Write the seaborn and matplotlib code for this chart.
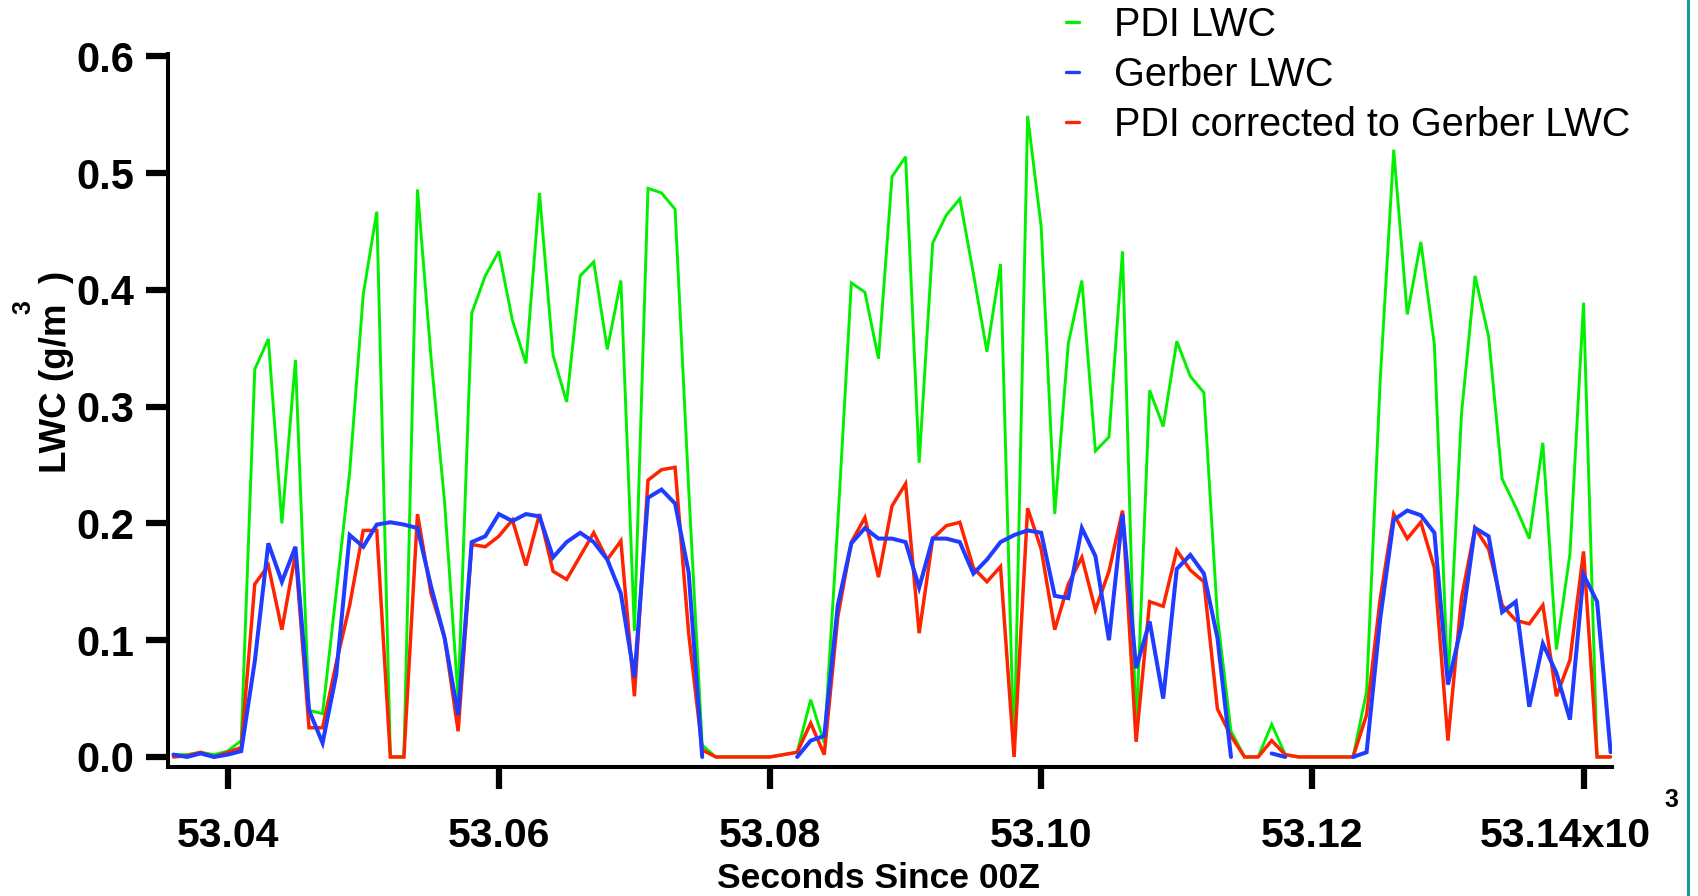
import numpy as np
import pandas as pd
import matplotlib
matplotlib.use("Agg")
import matplotlib.pyplot as plt
import seaborn as sns
from matplotlib.lines import Line2D
from matplotlib.ticker import FixedLocator, FixedFormatter
from matplotlib.transforms import ScaledTranslation

# 1 Hz samples, seconds since 00Z
seconds = np.arange(53036, 53143)

nan = np.nan
pdi_lwc = [
    0.002, 0.002, 0.004, 0.002, 0.005, 0.014, 0.332, 0.358, 0.200, 0.340,
    0.040, 0.037, 0.140, 0.244, 0.396, 0.467, 0.000, 0.000, 0.486, 0.342,
    0.218, 0.050, 0.380, 0.412, 0.433, 0.374, 0.337, 0.483, 0.344, 0.304,
    0.412, 0.424, 0.349, 0.408, 0.108, 0.487, 0.483, 0.469, 0.230, 0.010,
    0.000, 0.000, 0.000, 0.000, 0.000, 0.002, 0.004, 0.049, 0.012, 0.200,
    0.406, 0.398, 0.341, 0.497, 0.514, 0.252, 0.440, 0.464, 0.478, 0.414,
    0.347, 0.422, 0.000, 0.549, 0.454, 0.208, 0.354, 0.408, 0.262, 0.274,
    0.433, 0.020, 0.314, 0.283, 0.356, 0.326, 0.312, 0.120, 0.022, 0.000,
    0.000, 0.028, 0.002, 0.000, 0.000, 0.000, 0.000, 0.000, 0.056, 0.322,
    0.520, 0.379, 0.441, 0.353, 0.062, 0.294, 0.412, 0.360, 0.238, 0.214,
    0.187, 0.269, 0.092, 0.174, 0.389, 0.000, 0.000,
]

gerber_lwc = [
    0.002, 0.000, 0.003, 0.000, 0.002, 0.005, 0.082, 0.183, 0.150, 0.180,
    0.040, 0.012, 0.070, 0.190, 0.180, 0.199, 0.201, 0.199, 0.196, 0.146,
    0.102, 0.036, 0.184, 0.189, 0.208, 0.202, 0.208, 0.206, 0.171, 0.184,
    0.192, 0.184, 0.169, 0.140, 0.068, 0.222, 0.229, 0.217, 0.158, 0.000,
    nan, nan, nan, nan, nan, nan, 0.000, 0.014, 0.018, 0.130,
    0.183, 0.196, 0.187, 0.187, 0.184, 0.145, 0.187, 0.187, 0.184, 0.157,
    0.169, 0.184, 0.190, 0.194, 0.192, 0.138, 0.136, 0.196, 0.172, 0.100,
    0.208, 0.076, 0.116, 0.050, 0.161, 0.173, 0.157, 0.102, 0.000, nan,
    nan, 0.003, 0.000, nan, nan, nan, nan, 0.000, 0.004, 0.118,
    0.203, 0.211, 0.207, 0.192, 0.062, 0.112, 0.196, 0.189, 0.124, 0.133,
    0.043, 0.097, 0.072, 0.032, 0.156, 0.133, 0.004,
]

pdi_corrected_lwc = [
    0.000, 0.001, 0.004, 0.000, 0.004, 0.008, 0.148, 0.164, 0.109, 0.174,
    0.025, 0.025, 0.080, 0.130, 0.194, 0.194, 0.000, 0.000, 0.208, 0.140,
    0.102, 0.022, 0.182, 0.180, 0.189, 0.203, 0.164, 0.208, 0.159, 0.152,
    0.172, 0.192, 0.169, 0.185, 0.052, 0.237, 0.246, 0.248, 0.106, 0.006,
    0.000, 0.000, 0.000, 0.000, 0.000, 0.002, 0.004, 0.029, 0.002, 0.120,
    0.184, 0.205, 0.154, 0.215, 0.234, 0.106, 0.187, 0.198, 0.201, 0.162,
    0.150, 0.163, 0.000, 0.213, 0.178, 0.109, 0.148, 0.171, 0.126, 0.159,
    0.211, 0.013, 0.133, 0.129, 0.177, 0.160, 0.150, 0.041, 0.018, 0.000,
    0.000, 0.014, 0.002, 0.000, 0.000, 0.000, 0.000, 0.000, 0.036, 0.135,
    0.208, 0.187, 0.201, 0.162, 0.014, 0.136, 0.196, 0.178, 0.130, 0.117,
    0.114, 0.130, 0.052, 0.083, 0.176, 0.000, 0.000,
]

series_labels = ["PDI LWC", "Gerber LWC", "PDI corrected to Gerber LWC"]
series_colors = ["#00f000", "#1f3cff", "#ff2400"]

x_ticks = [53040, 53060, 53080, 53100, 53120, 53140]
x_tick_labels = ["53.04", "53.06", "53.08", "53.10", "53.12", "53.14x10"]
y_ticks = [0.0, 0.1, 0.2, 0.3, 0.4, 0.5, 0.6]
y_tick_labels = ["0.0", "0.1", "0.2", "0.3", "0.4", "0.5", "0.6"]

sns.set_style("ticks")
plt.rcParams["font.family"] = ["Liberation Sans", "DejaVu Sans"]
plt.rcParams["text.color"] = "black"
plt.rcParams["axes.labelcolor"] = "black"


def to_segments(values):
    """Long-form frame; NaN samples split the trace into separate units."""
    v = np.asarray(values, dtype=float)
    seg = np.cumsum(np.isnan(v))
    keep = ~np.isnan(v)
    return pd.DataFrame({"time": seconds[keep], "lwc": v[keep], "segment": seg[keep]})


W, H = 1699, 896
fig = plt.figure(figsize=(W / 100, H / 100), dpi=100)
ax = fig.add_axes([168 / W, 1 - 767 / H, (1612 - 168) / W, (767 - 54) / H])

series_values = [pdi_lwc, gerber_lwc, pdi_corrected_lwc]
widths = [2.1, 2.9, 2.5]
zorders = [2, 4, 3]
for vals, color, lw, z in zip(series_values, series_colors, widths, zorders):
    sns.lineplot(data=to_segments(vals), x="time", y="lwc", units="segment",
                 estimator=None, sort=False, color=color, linewidth=lw,
                 ax=ax, legend=False, zorder=z, solid_joinstyle="miter")

ax.set_xlim(53035.6, 53142.1)
ax.set_ylim(-0.0086, 0.602)

for side in ("top", "right"):
    ax.spines[side].set_visible(False)
for side in ("left", "bottom"):
    ax.spines[side].set_linewidth(2.9)
    ax.spines[side].set_color("black")

ax.xaxis.set_major_locator(FixedLocator(x_ticks))
ax.xaxis.set_major_formatter(FixedFormatter(x_tick_labels))
ax.yaxis.set_major_locator(FixedLocator(y_ticks))
ax.yaxis.set_major_formatter(FixedFormatter(y_tick_labels))
ax.tick_params(axis="both", which="major", direction="out", length=16,
               width=4.5, color="black", labelcolor="black",
               bottom=True, left=True, top=False, right=False)
ax.tick_params(axis="x", pad=20, labelsize=29.5)
ax.tick_params(axis="y", pad=8, labelsize=30)
for lab in ax.get_xticklabels() + ax.get_yticklabels():
    lab.set_fontweight("bold")
# the exponent-carrying last label sits slightly left of its tick
last = ax.get_xticklabels()[-1]
last.set_transform(last.get_transform() + ScaledTranslation(-0.18, 0, fig.dpi_scale_trans))

ax.set_xlabel("Seconds Since 00Z", fontsize=25.5, fontweight="bold",
              va="center", color="black")
ax.xaxis.set_label_coords(0.4917, -0.1557)
ax.set_ylabel("LWC (g/m  )", fontsize=26.5, fontweight="bold",
              va="center", color="black")
ax.yaxis.set_label_coords(-0.0775, 0.554)

# superscripts: cubic metres on the y label, x10^3 exponent on the time axis
fig.text(23 / W, 1 - 307 / H, "3", rotation=90, fontsize=18, fontweight="bold",
         ha="center", va="center", color="black")
fig.text(1671 / W, 1 - 800 / H, "3", fontsize=18, fontweight="bold",
         ha="center", va="center", color="black")

handles = [Line2D([], [], color=c, linewidth=2.4) for c in series_colors]
leg = fig.legend(handles, series_labels, loc="upper left",
                 bbox_to_anchor=(1066 / W, 1 - 6 / H), frameon=False,
                 fontsize=28.5, handlelength=0.32, handletextpad=0.9,
                 labelspacing=0.30, borderpad=0, borderaxespad=0)
for txt in leg.get_texts():
    txt.set_color("black")

# window edge on the right
fig.add_artist(Line2D([1688 / W, 1688 / W], [0, 1], transform=fig.transFigure,
                      color="#1a9a9a", linewidth=2.2))

fig.savefig("out.png", dpi=100, facecolor="white")
